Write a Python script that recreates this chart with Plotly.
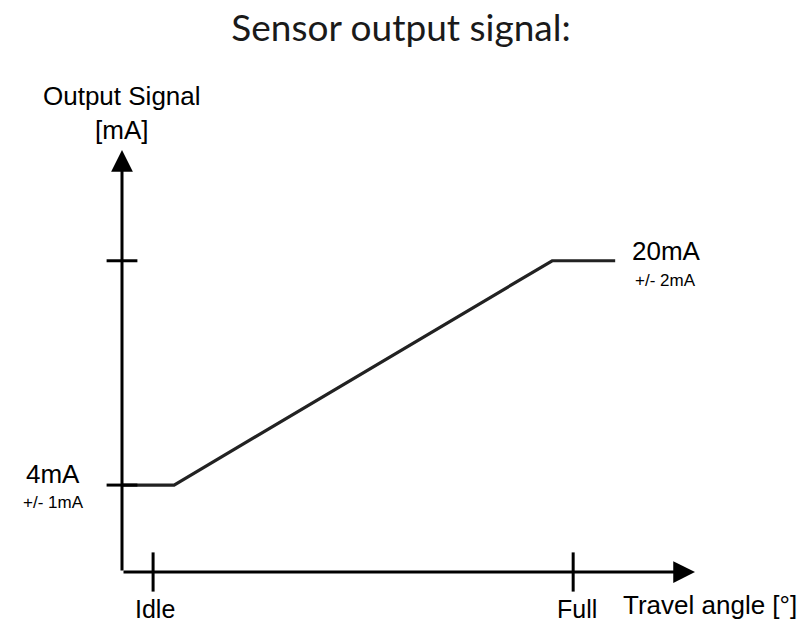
import plotly.graph_objects as go

# Data
signal_x = [-7.4, 5, 95, 110]          # travel position (% of Idle->Full)
signal_y = [4, 4, 20, 20]              # output current [mA]
x_tick_vals = [0, 100]
x_tick_text = ["Idle", "Full"]
y_tick_vals = [4, 20]
y_tick_text = ["4mA", "20mA"]
y_tick_tol = ["+/- 1mA", "+/- 2mA"]

XMIN, XMAX = -7.4, 129
YMIN, YMAX = -2.2, 27.9

FONT = "Liberation Sans, Arial, sans-serif"

fig = go.Figure()

# signal line
fig.add_trace(go.Scatter(x=signal_x, y=signal_y, mode="lines",
                         line=dict(color="#222222", width=3.2),
                         hoverinfo="skip", showlegend=False))

# tick marks crossing the axes
fig.add_trace(go.Scatter(x=x_tick_vals, y=[YMIN] * len(x_tick_vals), mode="markers",
                         marker=dict(symbol="line-ns", size=28, line=dict(color="black", width=3)),
                         cliponaxis=False, hoverinfo="skip", showlegend=False))
fig.add_trace(go.Scatter(x=[XMIN] * len(y_tick_vals), y=y_tick_vals, mode="markers",
                         marker=dict(symbol="line-ew", size=22, line=dict(color="black", width=3)),
                         cliponaxis=False, hoverinfo="skip", showlegend=False))

ann = []
# axis arrows
ann.append(dict(x=XMAX, y=YMIN, ax=XMIN, ay=YMIN, xref="x", yref="y", axref="x", ayref="y",
                showarrow=True, arrowhead=2, arrowsize=1.45, arrowwidth=3, arrowcolor="black",
                standoff=0, text=""))
ann.append(dict(x=XMIN, y=YMAX, ax=XMIN, ay=YMIN, xref="x", yref="y", axref="x", ayref="y",
                showarrow=True, arrowhead=2, arrowsize=1.45, arrowwidth=3, arrowcolor="black",
                standoff=0, text=""))

# x tick labels
for v, t, dx in zip(x_tick_vals, x_tick_text, [2, 4]):
    ann.append(dict(x=v, y=YMIN, xref="x", yref="y", text=t, showarrow=False,
                    xshift=dx, yshift=-37, font=dict(family=FONT, size=25, color="black")))

# y tick labels
ann.append(dict(x=XMIN, y=y_tick_vals[0], xref="x", yref="y", text=y_tick_text[0], showarrow=False,
                xshift=-69, yshift=11, font=dict(family=FONT, size=26, color="black")))
ann.append(dict(x=XMIN, y=y_tick_vals[0], xref="x", yref="y", text=y_tick_tol[0], showarrow=False,
                xshift=-69, yshift=-17, font=dict(family=FONT, size=17, color="black")))
ann.append(dict(x=signal_x[-1], y=y_tick_vals[1], xref="x", yref="y", text=y_tick_text[1], showarrow=False,
                xshift=51, yshift=10, font=dict(family=FONT, size=26, color="black")))
ann.append(dict(x=signal_x[-1], y=y_tick_vals[1], xref="x", yref="y", text=y_tick_tol[1], showarrow=False,
                xshift=50, yshift=-20, font=dict(family=FONT, size=17, color="black")))

# axis titles
ann.append(dict(x=XMIN, y=YMAX, xref="x", yref="y", text="Output Signal<br>[mA]", showarrow=False,
                yanchor="bottom", yshift=3, font=dict(family=FONT, size=26, color="black")))
ann.append(dict(x=112.1, y=YMIN, xref="x", yref="y", text="Travel angle [°]", showarrow=False,
                xanchor="left", xshift=-3, yshift=-33, font=dict(family=FONT, size=26, color="black")))

fig.update_layout(
    width=802, height=632,
    margin=dict(l=122, r=107, t=150, b=60),
    paper_bgcolor="white", plot_bgcolor="white",
    title=dict(text="Sensor output signal:", x=0.5, xanchor="center", y=1 - 28 / 632, yanchor="middle",
               font=dict(family="Lato, sans-serif", size=37, color="#1a1a1a", weight=400)),
    xaxis=dict(range=[XMIN, XMAX], visible=False, fixedrange=True),
    yaxis=dict(range=[YMIN, YMAX], visible=False, fixedrange=True),
    annotations=ann,
    showlegend=False,
)

fig.write_html("out.html", config={"displayModeBar": False},
               post_script="document.body.style.margin='0';document.body.style.overflow='hidden';")
